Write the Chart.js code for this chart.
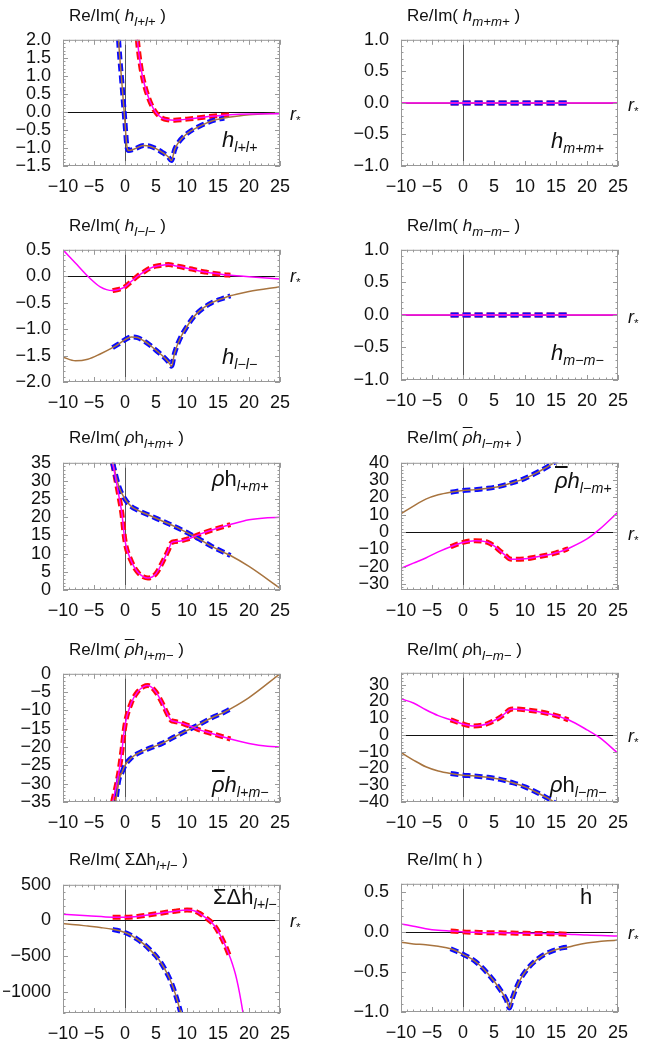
<!DOCTYPE html>
<html><head><meta charset="utf-8">
<script src="https://cdn.jsdelivr.net/npm/chart.js@4"></script>
<style>
body{margin:0;background:#fff;width:654px;height:1040px;position:relative;overflow:hidden;font-family:"Liberation Sans",Arial,sans-serif;}
canvas{position:absolute;}
.t{position:absolute;font-size:17px;white-space:nowrap;color:#111;}
.l{position:absolute;font-size:22px;white-space:nowrap;color:#111;}
.r{position:absolute;font-size:18px;color:#111;}
sub{font-size:65%;vertical-align:-0.35em;}
.t sub{font-size:78%;}
.ob{text-decoration:overline;}
</style></head><body>
<script>
// ---------- data ----------
const xTicks=[-10,-5,0,5,10,15,20,25];
const numRange=[-2,17];
// panel 1: h_{l+l+}
const p1ReX=[1,1.5,2,2.5,3,4,5,6,7,8,9,10,12,14,17,20,25];
const p1Re=[6,3.2,2.0,1.3,0.85,0.3,-0.02,-0.17,-0.22,-0.23,-0.22,-0.2,-0.16,-0.12,-0.08,-0.06,-0.05];
const p1ImX=[-2,-1.5,-1,-0.5,0,0.3,0.6,1.5,3,4,5,6,7,7.5,8,8.5,10,12,14,16,18,20,25];
const p1Im=[5,3.5,1.9,0.8,-0.3,-0.95,-1.07,-1.03,-0.93,-0.95,-1.02,-1.12,-1.25,-1.35,-1.05,-0.88,-0.6,-0.4,-0.25,-0.17,-0.12,-0.08,-0.03];
const p1Ticks=[-1.5,-1.0,-0.5,0.0,0.5,1.0,1.5,2.0];
// panel 2: h_{m+m+}
const p2X=[-10,-2,17,25];
const p2Re=[0,0,0,0];
const p2Im=[0,0,0,0];
const p2Ticks=[-1.0,-0.5,0.0,0.5,1.0];
// panel 3: h_{l-l-}
const p3X=[-10,-8,-6,-4,-2,-1,0,1,2,3,4,5,6,7,7.5,8,9,10,11,12,13,14,16,17,18,20,25];
const p3Re=[0.5,0.25,0.0,-0.2,-0.27,-0.25,-0.2,-0.1,0.0,0.08,0.15,0.19,0.21,0.22,0.215,0.2,0.18,0.15,0.13,0.1,0.08,0.06,0.03,0.02,0.01,-0.01,-0.05];
const p3Im=[-1.53,-1.6,-1.57,-1.47,-1.35,-1.28,-1.2,-1.15,-1.16,-1.22,-1.3,-1.4,-1.5,-1.62,-1.7,-1.45,-1.15,-0.95,-0.78,-0.66,-0.57,-0.5,-0.41,-0.37,-0.34,-0.29,-0.2];
const p3Ticks=[-2.0,-1.5,-1.0,-0.5,0.0,0.5];
// panel 4: h_{m-m-}
const p4X=[-10,-2,17,25];
const p4Re=[0,0,0,0];
const p4Im=[0,0,0,0];
const p4Ticks=[-1.0,-0.5,0.0,0.5,1.0];
// panel 5: rho h_{l+m+}
const p5ReX=[-10,-5,-2,-1,-0.5,0,1,2,3,3.7,5,6,7,7.5,8,9,10,11,12,14,16,17,20,23,25];
const p5Re=[90,55,35,26,21,13.5,8,5,3.6,3.3,4.5,7.5,11,13,13.3,13.5,14,14.6,15.3,16.5,17.5,18,19.3,19.9,20];
const p5ImX=[-10,-5,-2,-1,0,1,2,4,6,8,10,12,14,16,17,20,25];
const p5Im=[80,50,35,28.5,25,23,22,20.5,19,17.5,15.8,14,12,10.3,9.5,6.5,0.5];
const p5Ticks=[0,5,10,15,20,25,30,35];
// panel 6: rhobar h_{l-m+}
const p6X=[-10,-8,-6,-4,-2,0,2,3,4,5,6,7,7.5,8,10,12,14,15,16,17,20,22,25];
const p6Re=[-21,-18,-15,-11.5,-8.5,-6,-5,-5.2,-6,-8,-11,-14,-15.5,-15.8,-15.5,-14.3,-13,-12,-11,-9.5,-4,1.5,11.5];
const p6Im=[10.5,15,19,21.5,23,24,24.5,24.9,25.3,25.8,26.5,27.4,28,28.5,31,34.5,38.5,41,44,47,58,66,80];
const p6Ticks=[-30,-20,-10,0,10,20,30,40];
// panel 7: rhobar h_{l+m-}
const p7ReX=[-10,-5,-2,-1,-0.5,0,1,2,3,3.7,5,6,7,7.5,8,9,10,11,12,14,16,17,20,23,25];
const p7Re=[-90,-55,-35,-27,-21,-14,-8,-5,-3.5,-3.2,-5,-8,-11.5,-12.8,-13,-13.4,-14,-14.6,-15.3,-16.3,-17.3,-17.8,-19,-19.8,-20];
const p7ImX=[-10,-5,-2,-1.5,-1,-0.5,0,1,2,4,6,8,10,12,14,16,17,20,25];
const p7Im=[-80,-50,-40,-35,-29,-27,-25,-23,-21.8,-20.3,-19,-17.2,-15.5,-13.8,-12,-10.5,-9.6,-6.5,0];
const p7Ticks=[-35,-30,-25,-20,-15,-10,-5,0];
// panel 8: rho h_{l-m-}
const p8X=[-10,-8,-6,-4,-2,0,1.5,3,4,5,6,7,7.5,8,10,12,14,15,16,17,20,22,25];
const p8Re=[21.5,19,15,11.5,9,6.5,5.3,5.7,6.8,8.5,10.5,13.5,15,15.5,15,14,12.5,11.5,10.3,9,3,-1.5,-11];
const p8Im=[-10.5,-15,-19,-21.5,-23,-24,-24.4,-24.9,-25.3,-25.8,-26.5,-27.4,-28,-28.5,-31,-34.5,-38.5,-41,-44,-47,-58,-66,-80];
const p8Ticks=[-40,-30,-20,-10,0,10,20,30];
// panel 9: Sigma Delta h_{l+l-}
const p9ReX=[-10,-6,-2,0,2,4,6,8,10,11,12,13,14,15,16,17,18,19,20];
const p9Re=[85,65,45,45,55,80,105,130,145,140,100,40,-30,-150,-320,-530,-820,-1280,-1900];
const p9ImX=[-10,-8,-6,-4,-2,0,1,2,3,4,5,6,7,7.5,8,9,10];
const p9Im=[-45,-60,-80,-100,-125,-170,-210,-265,-330,-410,-500,-620,-780,-880,-1000,-1300,-1650];
const p9Ticks=[-1000,-500,0,500];
// panel 10: h
const p10X=[-10,-8,-6,-4,-2,0,2,4,6,7,7.5,8,9,10,12,14,16,17,18,20,25];
const p10Re=[0.1,0.07,0.04,0.02,0.01,0.0,-0.005,-0.01,-0.012,-0.014,-0.015,-0.015,-0.017,-0.018,-0.02,-0.022,-0.026,-0.03,-0.033,-0.04,-0.05];
const p10Im=[-0.13,-0.15,-0.16,-0.18,-0.21,-0.28,-0.37,-0.52,-0.72,-0.85,-0.95,-0.82,-0.63,-0.5,-0.34,-0.25,-0.2,-0.19,-0.17,-0.14,-0.1];
const p10Ticks=[-1.0,-0.5,0.0,0.5];

// ---------- layout ----------
const PW=217;
const colLeft=[63,401];
const panels=[
 {col:0,top:35,bot:166,min:-1.5,max:2.0,ticks:p1Ticks,dec:1,reX:p1ReX,re:p1Re,imX:p1ImX,im:p1Im,ty:6,
  title:'Re/Im( <i>h<sub>l+l+</sub></i> )',label:'<i>h<sub>l+l+</sub></i>',lx:222,ly:127},
 {col:1,top:35,bot:166,min:-1.0,max:1.0,ticks:p2Ticks,dec:1,reX:p2X,re:p2Re,imX:p2X,im:p2Im,ty:6,
  title:'Re/Im( <i>h<sub>m+m+</sub></i> )',label:'<i>h<sub>m+m+</sub></i>',lx:551,ly:128},
 {col:0,top:245,bot:382,min:-2.0,max:0.5,ticks:p3Ticks,dec:1,reX:p3X,re:p3Re,imX:p3X,im:p3Im,ty:216,
  title:'Re/Im( <i>h<sub>l−l−</sub></i> )',label:'<i>h<sub>l−l−</sub></i>',lx:222,ly:344},
 {col:1,top:245,bot:380,min:-1.0,max:1.0,ticks:p4Ticks,dec:1,reX:p4X,re:p4Re,imX:p4X,im:p4Im,ty:216,
  title:'Re/Im( <i>h<sub>m−m−</sub></i> )',label:'<i>h<sub>m−m−</sub></i>',lx:551,ly:340},
 {col:0,top:458,bot:590,min:0,max:35,ticks:p5Ticks,dec:0,reX:p5ReX,re:p5Re,imX:p5ImX,im:p5Im,ty:428,
  title:'Re/Im( <i>ρ</i>h<sub><i>l+m+</i></sub> )',label:'<i>ρ</i>h<sub><i>l+m+</i></sub>',lx:212,ly:466},
 {col:1,top:458,bot:590,min:-33.5,max:40,ticks:p6Ticks,dec:0,reX:p6X,re:p6Re,imX:p6X,im:p6Im,ty:428,
  title:'Re/Im( <i class="ob">ρ</i><i>h<sub>l−m+</sub></i> )',label:'<i class="ob">ρ</i><i>h<sub>l−m+</sub></i>',lx:555,ly:468},
 {col:0,top:669,bot:802,min:-35,max:0,ticks:p7Ticks,dec:0,reX:p7ReX,re:p7Re,imX:p7ImX,im:p7Im,ty:640,
  title:'Re/Im( <i class="ob">ρ</i><i>h<sub>l+m−</sub></i> )',label:'<i class="ob">ρ</i><i>h<sub>l+m−</sub></i>',lx:212,ly:772},
 {col:1,top:668,bot:802,min:-40,max:37,ticks:p8Ticks,dec:0,reX:p8X,re:p8Re,imX:p8X,im:p8Im,ty:640,
  title:'Re/Im( <i>ρ</i>h<sub><i>l−m−</i></sub> )',label:'<i>ρ</i>h<sub><i>l−m−</i></sub>',lx:550,ly:772},
 {col:0,top:880,bot:1013,min:-1300,max:500,ticks:p9Ticks,dec:0,reX:p9ReX,re:p9Re,imX:p9ImX,im:p9Im,ty:850,
  title:'Re/Im( ΣΔh<sub><i>l+l−</i></sub> )',label:'ΣΔh<sub><i>l+l−</i></sub>',lx:213,ly:884},
 {col:1,top:879,bot:1012,min:-1.0,max:0.6,ticks:p10Ticks,dec:1,reX:p10X,re:p10Re,imX:p10X,im:p10Im,ty:850,
  title:'Re/Im( h )',label:'h',lx:580,ly:884},
];

function pts(xs,ys,lo,hi){const o=[];xs.forEach((x,i)=>{if(x>=lo&&x<=hi)o.push({x:x,y:ys[i]});});return o;}
const fmt=(v,d)=>v.toFixed(d).replace('-','−');

const framePlugin={id:'frame',
 beforeDatasetsDraw(c){const a=c.chartArea,x=c.scales.x,y=c.scales.y,ctx=c.ctx;const o=c.options.plugins.frame;
  ctx.save();
  ctx.strokeStyle='#555';ctx.lineWidth=1;
  const x0=Math.round(x.getPixelForValue(0))+0.5;
  ctx.beginPath();ctx.moveTo(x0,a.top);ctx.lineTo(x0,a.bottom);ctx.stroke();
  if(o.min<0&&o.max>0){const y0=Math.round(y.getPixelForValue(0))+0.5;ctx.strokeStyle='#111';
   ctx.beginPath();ctx.moveTo(a.left,y0);ctx.lineTo(a.right,y0);ctx.stroke();}
  ctx.restore();},
 afterDraw(c){const a=c.chartArea,x=c.scales.x,y=c.scales.y,ctx=c.ctx;const o=c.options.plugins.frame;
  ctx.save();ctx.strokeStyle='#999';ctx.lineWidth=1;
  ctx.strokeRect(a.left+0.5,a.top+0.5,a.right-a.left-1,a.bottom-a.top-1);
  ctx.beginPath();
  for(let v=-10;v<=25.001;v+=1){const p=Math.round(x.getPixelForValue(v))+0.5;const L=(Math.abs(v%5)<1e-6)?5:2.5;
   ctx.moveTo(p,a.bottom);ctx.lineTo(p,a.bottom-L);ctx.moveTo(p,a.top);ctx.lineTo(p,a.top+L);}
  const st=o.step/5;const s0=Math.ceil(o.min/st-1e-6)*st;
  for(let v=s0;v<=o.max+1e-9;v+=st){const p=Math.round(y.getPixelForValue(v))+0.5;
   const k=Math.round(v/st);const L=(k%5===0)?5:2.5;
   ctx.moveTo(a.left,p);ctx.lineTo(a.left+L,p);ctx.moveTo(a.right,p);ctx.lineTo(a.right-L,p);}
  ctx.stroke();ctx.restore();}
};
Chart.register(framePlugin);

panels.forEach(P=>{
 const L=colLeft[P.col];
 const padT=10,padR=14,yw=60,xh=26;
 const cv=document.createElement('canvas');
 const w=yw+PW+padR,h=padT+(P.bot-P.top)+xh;
 cv.style.left=(L-yw)+'px';cv.style.top=(P.top-padT)+'px';
 cv.style.width=w+'px';cv.style.height=h+'px';cv.width=w;cv.height=h;
 document.body.appendChild(cv);
 const step=P.ticks[1]-P.ticks[0];
 const base={fill:false,pointRadius:0,cubicInterpolationMode:'monotone'};
 new Chart(cv,{type:'line',
  data:{datasets:[
   Object.assign({data:pts(P.reX,P.re,-99,99),borderColor:'#ff00ff',borderWidth:1.5},base),
   Object.assign({data:pts(P.imX,P.im,-99,99),borderColor:'#a8743f',borderWidth:1.5},base),
   Object.assign({data:pts(P.imX,P.im,numRange[0],numRange[1]),borderColor:'#0a0aff',borderWidth:5,borderDash:[8,4]},base),
   Object.assign({data:pts(P.reX,P.re,numRange[0],numRange[1]),borderColor:'#ff0a0a',borderWidth:5,borderDash:[8,4]},base),
  ]},
  options:{responsive:false,animation:false,devicePixelRatio:1,
   layout:{padding:{top:padT,right:padR,left:0,bottom:0}},
   plugins:{legend:{display:false},tooltip:{enabled:false},frame:{min:P.min,max:P.max,step:step}},
   scales:{
    x:{type:'linear',min:-10,max:25,grid:{display:false},border:{display:false},
     afterBuildTicks:s=>{s.ticks=xTicks.map(v=>({value:v}));},
     afterFit:s=>{s.height=xh;},
     ticks:{autoSkip:false,font:{size:18,family:'Liberation Sans'},color:'#111',padding:2,maxRotation:0,callback:v=>fmt(v,0)}},
    y:{type:'linear',min:P.min,max:P.max,grid:{display:false},border:{display:false},
     afterBuildTicks:s=>{s.ticks=P.ticks.map(v=>({value:v}));},
     afterFit:s=>{s.width=yw;},
     ticks:{autoSkip:false,font:{size:18,family:'Liberation Sans'},color:'#111',padding:4,callback:v=>fmt(v,P.dec)}}
   }}});
 const t=document.createElement('div');t.className='t';t.innerHTML=P.title;
 t.style.left=(L+6)+'px';t.style.top=P.ty+'px';document.body.appendChild(t);
 const lb=document.createElement('div');lb.className='l';lb.innerHTML=P.label;
 lb.style.left=P.lx+'px';lb.style.top=P.ly+'px';document.body.appendChild(lb);
 if(P.min<0&&P.max>0){const y0=P.top+(P.max/(P.max-P.min))*(P.bot-P.top);
  const r=document.createElement('div');r.className='r';r.innerHTML='<i>r</i><sub>*</sub>';
  r.style.left=(L+PW+10)+'px';r.style.top=(y0-6)+'px';document.body.appendChild(r);}
});
</script>
</body></html>
